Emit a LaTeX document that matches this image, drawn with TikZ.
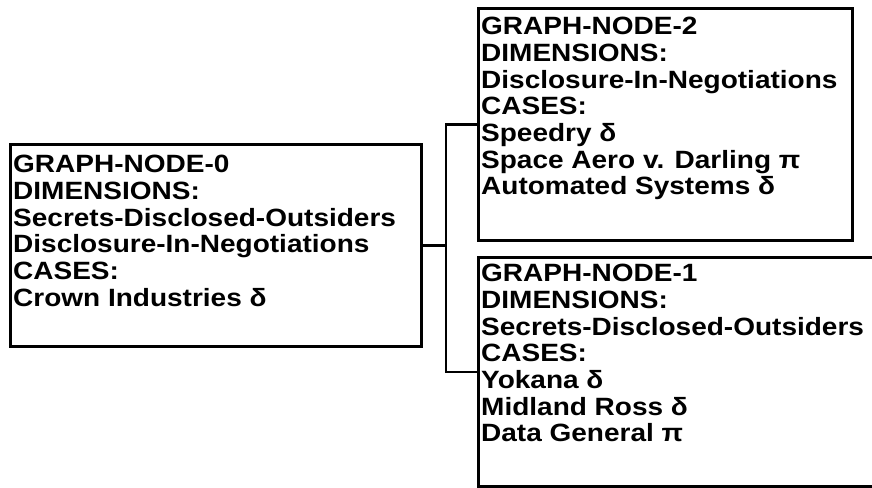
\documentclass[tikz,border=0pt]{standalone}
\usepackage{fontspec}
\newfontfamily\boxfont{Liberation Sans}[FakeStretch=1.12]
\begin{document}
\begin{tikzpicture}[x=1pt,y=-1pt,
  gbox/.style={draw,line width=2.6pt,inner sep=0pt,anchor=north west},
  gtext/.style={anchor=north west,inner sep=0pt,align=left,
    font=\boxfont\bfseries\fontsize{25}{26.7}\selectfont},
  link/.style={line width=2.6pt}]
\clip (0,0) rectangle (872,487);
\useasboundingbox (0,0) rectangle (872,487);
\node[gbox,minimum width=411pt,minimum height=202pt] (n0) at (9,143) {};
\node[gbox,minimum width=374pt,minimum height=232pt] (n2) at (477,7) {};
\node[gbox,minimum width=430pt,minimum height=229pt] (n1) at (477,256) {};
\node[gtext] (t0) at (13,155) {GRAPH-NODE-0\\DIMENSIONS:\\Secrets-Disclosed-Outsiders\\Disclosure-In-Negotiations\\CASES:\\Crown Industries δ};
\node[gtext] (t2) at (481,17) {GRAPH-NODE-2\\DIMENSIONS:\\Disclosure-In-Negotiations\\CASES:\\Speedry δ\\Space Aero v. Darling π\\Automated Systems δ};
\node[gtext] (t1) at (481,264) {GRAPH-NODE-1\\DIMENSIONS:\\Secrets-Disclosed-Outsiders\\CASES:\\Yokana δ\\Midland Ross δ\\Data General π};
\coordinate (j) at (446,245);
\draw[link] (n0.east) -- (n0.east -| j);
\draw[link] (n2.west) -| (j) |- (n1.west);
\end{tikzpicture}
\end{document}
